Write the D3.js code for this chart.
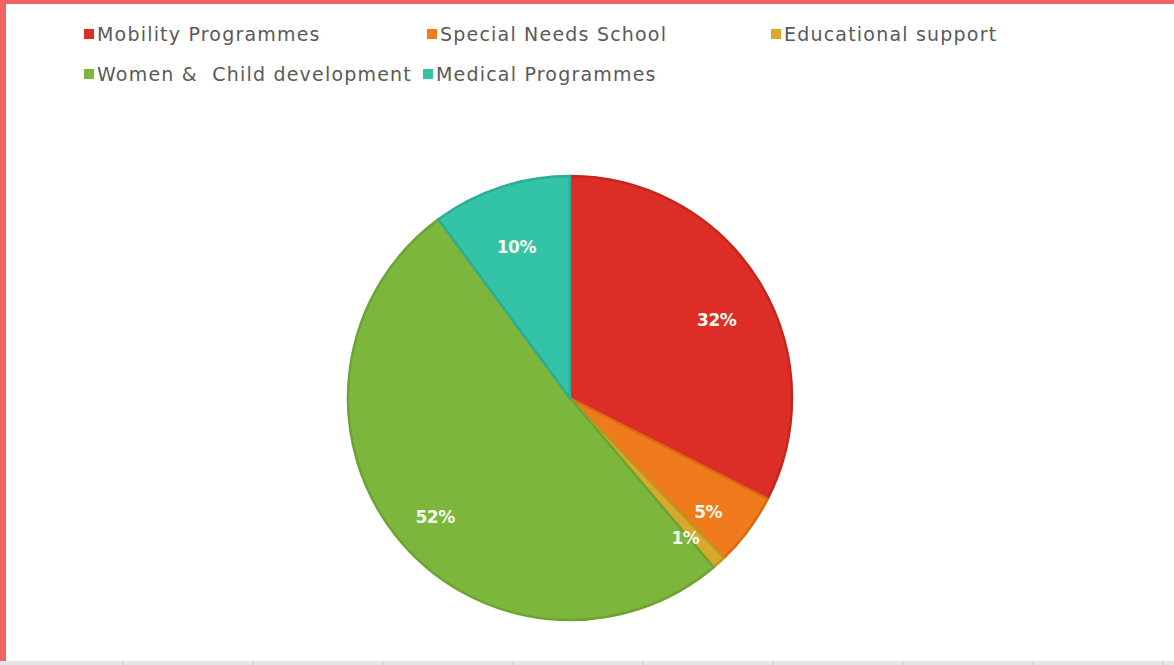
<!DOCTYPE html>
<html>
<head>
<meta charset="utf-8">
<script src="https://cdn.jsdelivr.net/npm/d3@7"></script>
<style>
body { margin: 0; background: #fff; overflow: hidden; }
</style>
</head>
<body>
<div class="content"></div>
<script>
// chart data
var categories = ["Mobility Programmes", "Special Needs School", "Educational support", "Women &  Child development", "Medical Programmes"];
var shares = [32.5, 5.3, 1.0, 51.1, 10.1];
var labels = ["32%", "5%", "1%", "52%", "10%"];
var colours = ["#dc2d27", "#f07b1d", "#d9a92c", "#7cb63d", "#33c3a7"];
var rims = ["#c42620", "#d96a12", "#c39520", "#6ea333", "#2aae94"];

var width = 1174;
var height = 665;
var svg = d3.select(".content").append("svg").attr("width", width).attr("height", height);

// frame bits from the sheet behind the chart
svg.append("rect").attr("x", 0).attr("y", 0).attr("width", width).attr("height", 4).attr("fill", "#f06466");
svg.append("rect").attr("x", 0).attr("y", 0).attr("width", 6).attr("height", 661).attr("fill", "#f06466");
svg.append("rect").attr("x", 0).attr("y", 661).attr("width", width).attr("height", 4).attr("fill", "#e6e6e6");
var gridX = d3.range(123, width, 130);
svg.selectAll(".sep").data(gridX).enter().append("line")
	.attr("x1", function(d){ return d; }).attr("x2", function(d){ return d; })
	.attr("y1", 661).attr("y2", 665).attr("stroke", "#c8c8c8");

// pie
var cx = 570, cy = 398, r = 222;
var pie = d3.pie().sort(null).value(function(d){ return d; });
var arc = d3.arc().innerRadius(0).outerRadius(r);
var labelArc = d3.arc().innerRadius(172).outerRadius(172);
var slices = pie(shares);
var g = svg.append("g").attr("transform", "translate(" + cx + "," + cy + ")");
g.selectAll("path").data(slices).enter().append("path")
	.attr("d", arc)
	.attr("fill", function(d, i){ return colours[i]; })
	.attr("stroke", function(d, i){ return rims[i]; })
	.attr("stroke-width", 2.5)
	.attr("stroke-linejoin", "round");
g.selectAll("text").data(slices).enter().append("text")
	.attr("transform", function(d){ return "translate(" + labelArc.centroid(d) + ")"; })
	.attr("text-anchor", "middle").attr("y", 12).attr("dy", "0.35em")
	.attr("font-family", "Verdana, 'DejaVu Sans', sans-serif")
	.attr("font-weight", "bold").attr("font-size", 17)
	.attr("letter-spacing", -0.5)
	.attr("fill", "#f4f8ec")
	.text(function(d, i){ return labels[i]; });

// legend
var legendPos = [[84, 34], [427, 34], [771, 34], [84, 74], [423, 74]];
var legend = svg.selectAll(".leg").data(categories).enter().append("g")
	.attr("transform", function(d, i){ return "translate(" + legendPos[i][0] + "," + legendPos[i][1] + ")"; });
legend.append("rect").attr("x", 0).attr("y", -5).attr("width", 10).attr("height", 10)
	.attr("fill", function(d, i){ return colours[i]; });
legend.append("text").attr("x", 13).attr("dy", "0.35em")
	.attr("font-family", "'DejaVu Sans', sans-serif").attr("font-size", 19)
	.attr("letter-spacing", 1.2)
	.style("white-space", "pre")
	.attr("fill", "#5a5a5a")
	.text(function(d){ return d; });
</script>
</body>
</html>
